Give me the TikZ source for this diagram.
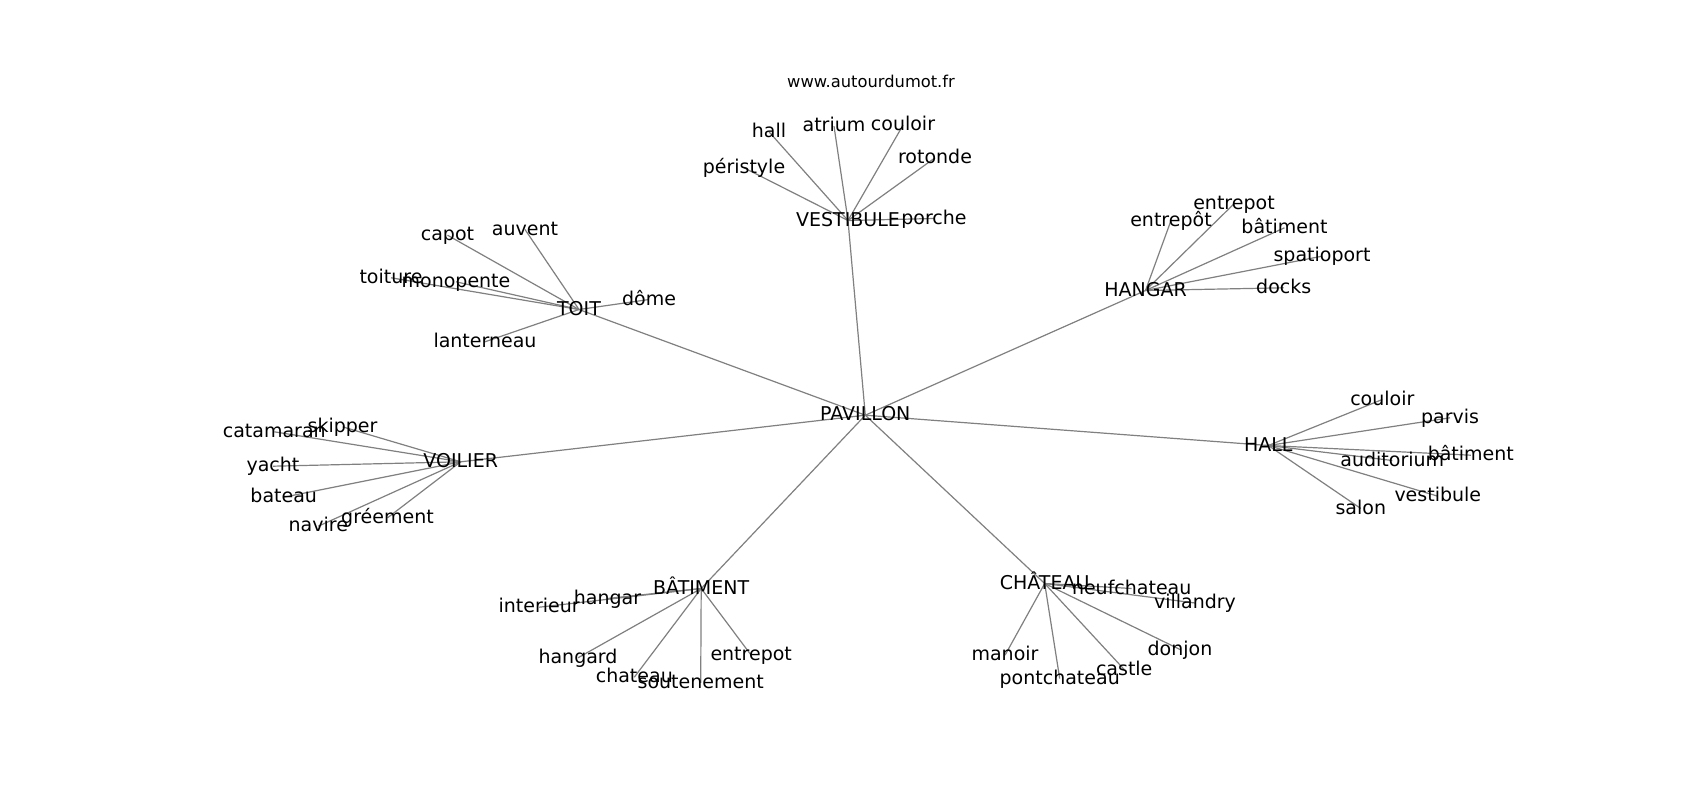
\documentclass[tikz,border=0pt]{standalone}
\usepackage{fontspec}
\setmainfont{DejaVu Sans}
\usetikzlibrary{backgrounds}
\begin{document}
\begin{tikzpicture}[x=1pt,y=-1pt,
  lbl/.style={inner sep=0pt,outer sep=0pt,text height=1.1em,text depth=-0.1em,font=\fontsize{19}{23}\selectfont,text=black},
  ttl/.style={inner sep=0pt,outer sep=0pt,text height=1.1em,text depth=-0.1em,font=\fontsize{16.3}{20}\selectfont,text=black},
  edge/.style={draw=gray,line width=1.2pt}]
\useasboundingbox (0,0) rectangle (1700,800);
% title
\node[ttl] (title) at (871,82) {www.autourdumot.fr};
% hubs
\node[lbl] (pav) at (865.3,415.2) {PAVILLON};
\node[lbl] (vest) at (848,220.5) {VESTIBULE};
\node[lbl] (toit) at (579,309.5) {TOIT};
\node[lbl] (hangar) at (1145.5,290.5) {HANGAR};
\node[lbl] (voilier) at (460.7,461.8) {VOILIER};
\node[lbl] (hall) at (1268.3,445.5) {HALL};
\node[lbl] (bat) at (701.2,588.5) {BÂTIMENT};
\node[lbl] (chat) at (1044.7,583.5) {CHÂTEAU};
% VESTIBULE leaves
\node[lbl] (v1) at (769,131.8) {hall};
\node[lbl] (v2) at (834,126.2) {atrium};
\node[lbl] (v3) at (903,125.2) {couloir};
\node[lbl] (v4) at (744,167.8) {péristyle};
\node[lbl] (v5) at (935,157.8) {rotonde};
\node[lbl] (v6) at (934,218.5) {porche};
% TOIT leaves
\node[lbl] (t1) at (447.5,235.2) {capot};
\node[lbl] (t2) at (525,229.5) {auvent};
\node[lbl] (t3) at (391,277.8) {toiture};
\node[lbl] (t4) at (456,281.8) {monopente};
\node[lbl] (t5) at (649,299.5) {dôme};
\node[lbl] (t6) at (485,341.8) {lanterneau};
% HANGAR leaves
\node[lbl] (h1) at (1234,203.8) {entrepot};
\node[lbl] (h2) at (1171,220.5) {entrepôt};
\node[lbl] (h3) at (1284.5,227.8) {bâtiment};
\node[lbl] (h4) at (1322,256.2) {spatioport};
\node[lbl] (h5) at (1283.7,287.8) {docks};
% VOILIER leaves
\node[lbl] (o1) at (274.3,431.8) {catamaran};
\node[lbl] (o2) at (342.5,426.8) {skipper};
\node[lbl] (o3) at (273,466.2) {yacht};
\node[lbl] (o4) at (283.7,497.2) {bateau};
\node[lbl] (o5) at (318.3,526.2) {navire};
\node[lbl] (o6) at (387.5,517.8) {gréement};
% HALL leaves
\node[lbl] (l1) at (1382.3,399.5) {couloir};
\node[lbl] (l2) at (1450,417.8) {parvis};
\node[lbl] (l3) at (1470.8,455.2) {bâtiment};
\node[lbl] (l4) at (1392.3,460.5) {auditorium};
\node[lbl] (l5) at (1437.8,496.2) {vestibule};
\node[lbl] (l6) at (1360.8,508.5) {salon};
% BÂTIMENT leaves
\node[lbl] (b1) at (607.5,598.5) {hangar};
\node[lbl] (b2) at (539.2,607.2) {interieur};
\node[lbl] (b3) at (578,657.8) {hangard};
\node[lbl] (b4) at (751.2,655.2) {entrepot};
\node[lbl] (b5) at (634.3,677.2) {chateau};
\node[lbl] (b6) at (700.7,682.8) {soutenement};
% CHÂTEAU leaves
\node[lbl] (c1) at (1131.7,588.5) {neufchateau};
\node[lbl] (c2) at (1195,603) {villandry};
\node[lbl] (c3) at (1005,655.2) {manoir};
\node[lbl] (c4) at (1180,649.5) {donjon};
\node[lbl] (c5) at (1124.2,669.5) {castle};
\node[lbl] (c6) at (1059.7,678.5) {pontchateau};
% edges (behind the texts)
\begin{scope}[on background layer]
\fill[white] (0,0) rectangle (1700,800);
\foreach \h in {vest,toit,hangar,voilier,hall,bat,chat}
  \path[edge] (pav.center) -- (\h.center);
\foreach \l in {v1,v2,v3,v4,v5,v6} \path[edge] (vest.center) -- (\l.center);
\foreach \l in {t1,t2,t3,t4,t5,t6} \path[edge] (toit.center) -- (\l.center);
\foreach \l in {h1,h2,h3,h4,h5} \path[edge] (hangar.center) -- (\l.center);
\foreach \l in {o1,o2,o3,o4,o5,o6} \path[edge] (voilier.center) -- (\l.center);
\foreach \l in {l1,l2,l3,l4,l5,l6} \path[edge] (hall.center) -- (\l.center);
\foreach \l in {b1,b2,b3,b4,b5,b6} \path[edge] (bat.center) -- (\l.center);
\foreach \l in {c1,c2,c3,c4,c5,c6} \path[edge] (chat.center) -- (\l.center);
\end{scope}
\end{tikzpicture}
\end{document}
